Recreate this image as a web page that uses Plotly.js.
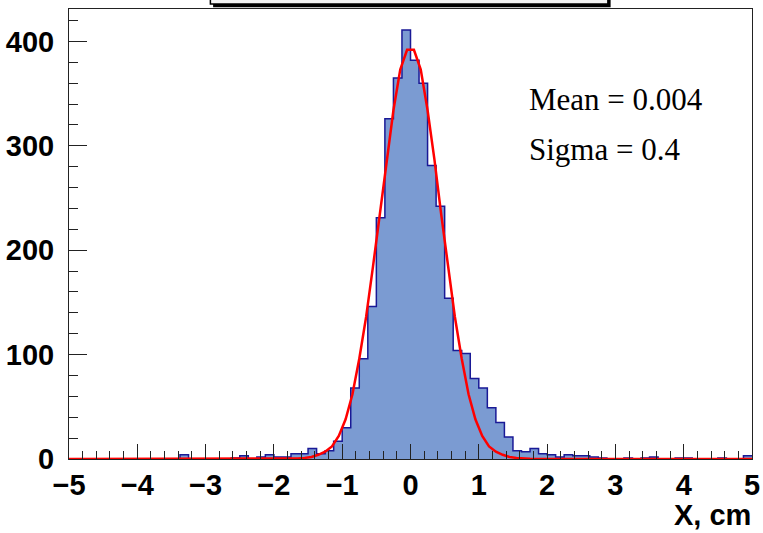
<!DOCTYPE html>
<html>
<head>
<meta charset="utf-8">
<script src="https://cdn.plot.ly/plotly-3.0.1.min.js"></script>
<style>html,body{margin:0;padding:0;background:#fff;}#chart{width:763px;height:533px;}</style>
</head>
<body>
<div id="chart"></div>
<script>
// Histogram bin lower edges (bin width 0.125, range -5..5)
const binLow = [-5.000,-4.875,-4.750,-4.625,-4.500,-4.375,-4.250,-4.125,-4.000,-3.875,
  -3.750,-3.625,-3.500,-3.375,-3.250,-3.125,-3.000,-2.875,-2.750,-2.625,
  -2.500,-2.375,-2.250,-2.125,-2.000,-1.875,-1.750,-1.625,-1.500,-1.375,
  -1.250,-1.125,-1.000,-0.875,-0.750,-0.625,-0.500,-0.375,-0.250,-0.125,
  0.000,0.125,0.250,0.375,0.500,0.625,0.750,0.875,1.000,1.125,
  1.250,1.375,1.500,1.625,1.750,1.875,2.000,2.125,2.250,2.375,
  2.500,2.625,2.750,2.875,3.000,3.125,3.250,3.375,3.500,3.625,
  3.750,3.875,4.000,4.125,4.250,4.375,4.500,4.625,4.750,4.875];
const binHigh = 5.0;
// Bin contents
const counts = [0,0,0,0,0,0,0,0,0,0,
  0,0,0,4,0,0,0,0,0,1,
  3,0,2,4,2,2,5,5,10,5,
  8,17,30,68,96,146,231,326,365,411,
  382,360,281,242,154,104,101,77,68,49,
  35,21,8,7,10,5,4,2,4,3,
  3,2,1,0,0,1,0,1,2,0,
  0,1,1,0,0,0,1,0,0,3];
// Gaussian fit curve
const fitX = [-5,-1.75,-1.65,-1.55,-1.45,-1.35,-1.25,-1.15,-1.05,-0.95,-0.85,-0.75,-0.65,-0.55,-0.45,-0.35,-0.25,-0.15,-0.05,
  0.05,0.15,0.25,0.35,0.45,0.55,0.65,0.75,0.85,0.95,1.05,1.15,1.25,1.35,1.45,1.55,1.65,1.75,5];
const fitY = [0,0.2,0.5,1,2,4,7,12,22,38,62,96,136,184,234,287,334,373,392,
  392,373,334,287,234,184,136,96,62,38,22,12,7,4,2,1,0.5,0.2,0];
const statLines = ["Mean = 0.004", "Sigma = 0.4"];
const xTitle = "X, cm";

// step outline: lower edges plus the final upper edge
const stepX = binLow.concat([binHigh]);
const stepY = counts.concat([counts[counts.length - 1]]);

const traces = [
  {
    type: 'scatter', mode: 'lines', x: stepX, y: stepY,
    line: {shape: 'hv', color: 'rgb(25,25,150)', width: 1.5},
    fill: 'tozeroy', fillcolor: 'rgb(123,155,210)',
    hoverinfo: 'skip', showlegend: false
  },
  {
    type: 'scatter', mode: 'lines', x: fitX, y: fitY,
    line: {color: 'rgb(255,0,0)', width: 2.5},
    hoverinfo: 'skip', showlegend: false
  }
];

const xTickFont = {family: 'Liberation Sans, Arial, sans-serif', size: 29, color: '#000', weight: 700};
const yTickFont = {family: 'Liberation Sans, Arial, sans-serif', size: 29, color: '#000', weight: 700};
const titleFont = {family: 'Liberation Sans, Arial, sans-serif', size: 29, color: '#000', weight: 700};
const statFont = {family: 'Liberation Serif, Times New Roman, serif', size: 31, color: '#000'};

const layout = {
  width: 763, height: 533,
  margin: {l: 69, r: 11, t: 9, b: 74, pad: 0},
  paper_bgcolor: '#fff', plot_bgcolor: '#fff',
  showlegend: false,
  xaxis: {
    range: [-5, 5], dtick: 1, tick0: 0,
    ticks: 'inside', ticklen: 15, tickwidth: 1, tickcolor: '#222',
    minor: {dtick: 0.2, ticks: 'inside', ticklen: 8, tickwidth: 1, tickcolor: '#222'},
    showline: true, linecolor: '#222', linewidth: 1, mirror: true,
    showgrid: false, zeroline: false,
    tickfont: xTickFont, ticklabelstandoff: 0
  },
  yaxis: {
    range: [0, 431], dtick: 100, tick0: 0,
    ticks: 'inside', ticklen: 18, tickwidth: 1, tickcolor: '#222',
    minor: {dtick: 20, ticks: 'inside', ticklen: 9, tickwidth: 1, tickcolor: '#222'},
    showline: true, linecolor: '#222', linewidth: 1, mirror: true,
    showgrid: false, zeroline: false,
    tickfont: yTickFont, ticklabelstandoff: 8
  },
  shapes: [
    {type: 'rect', xref: 'paper', yref: 'paper', x0: 0.211, x1: 0.793, y0: 1.004, y1: 1.06,
     fillcolor: '#000', line: {width: 0}},
    {type: 'rect', xref: 'paper', yref: 'paper', x0: 0.207, x1: 0.789, y0: 1.011, y1: 1.06,
     fillcolor: '#f4f4f4', line: {color: '#000', width: 1.5}}
  ],
  annotations: [
    {xref: 'paper', yref: 'paper', x: 0.6706, y: 0.798, xanchor: 'left', yanchor: 'middle',
     text: statLines[0], showarrow: false, font: statFont},
    {xref: 'paper', yref: 'paper', x: 0.6706, y: 0.687, xanchor: 'left', yanchor: 'middle',
     text: statLines[1], showarrow: false, font: statFont},
    {xref: 'paper', yref: 'paper', x: 1.0, y: -0.163, xanchor: 'right', yanchor: 'bottom',
     borderpad: 0, text: xTitle, showarrow: false, font: titleFont}
  ]
};

Plotly.newPlot('chart', traces, layout, {displayModeBar: false, staticPlot: true});
</script>
</body>
</html>
